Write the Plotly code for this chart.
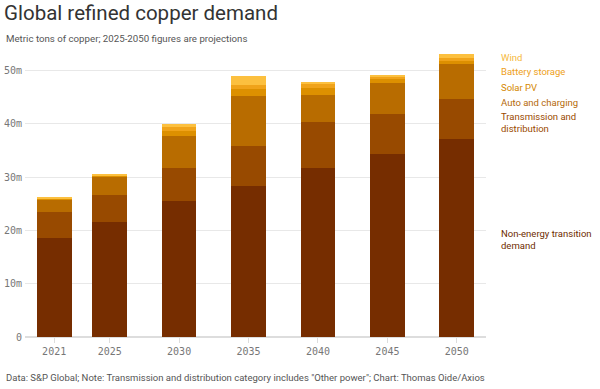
import plotly.graph_objects as go

years = [2021, 2025, 2030, 2035, 2040, 2045, 2050]
year_labels = ["2021", "2025", "2030", "2035", "2040", "2045", "2050"]

non_energy = [18.5, 21.6, 25.5, 28.3, 31.6, 34.3, 37.1]
transmission = [4.9, 5.1, 6.2, 7.5, 8.8, 7.5, 7.5]
auto_charging = [2.3, 3.35, 6.0, 9.4, 5.0, 5.75, 6.6]
solar_pv = [0.25, 0.2, 0.9, 1.3, 1.25, 0.8, 0.6]
battery = [0.1, 0.1, 0.7, 0.8, 0.75, 0.5, 0.45]
wind = [0.2, 0.15, 0.6, 1.7, 0.5, 0.3, 0.8]

y_ticks = [0, 10, 20, 30, 40, 50]
y_tick_labels = ["0", "10m", "20m", "30m", "40m", "50m"]

series = [
    ("Non-energy transition<br>demand", non_energy, "#762d00", "#6e2c00", 18.3),
    ("Transmission and<br>distribution", transmission, "#984a00", "#9a4a00", 40.3),
    ("Auto and charging", auto_charging, "#b86c00", "#b5690a", 43.9),
    ("Solar PV", solar_pv, "#dd9000", "#d48700", 46.7),
    ("Battery storage", battery, "#f0a31a", "#eea020", 49.7),
    ("Wind", wind, "#fcc03f", "#f5b83d", 52.4),
]

W, H = 600, 389
ML, MR, MT, MB = 25, 114, 49, 52
PH = H - MT - MB
PW = W - ML - MR


def py_to_paper(py):
    return (H - MB - py) / PH


def px_to_paper(px):
    return (px - ML) / PW


fig = go.Figure()
for name, vals, col, _, _ in series:
    fig.add_trace(go.Bar(
        x=years, y=vals, name=name.replace("<br>", " "), width=2.5,
        marker=dict(color=col, line=dict(width=0)),
        hoverinfo="skip",
    ))

for name, vals, _, tcol, ypos in series:
    fig.add_annotation(
        x=px_to_paper(499), xref="paper", y=ypos, yref="y", text=name, showarrow=False,
        xanchor="left", yanchor="middle", align="left",
        font=dict(family="Roboto", size=9.5, color=tcol),
    )

fig.update_layout(
    barmode="stack",
    width=W, height=H,
    margin=dict(l=ML, r=MR, t=MT, b=MB, autoexpand=False),
    paper_bgcolor="white", plot_bgcolor="white",
    showlegend=False,
    title=dict(
        text="Global refined copper demand",
        x=4 / W, xanchor="left", xref="container",
        y=1 - 13 / H, yanchor="middle", yref="container",
        font=dict(family="Roboto", size=20.5, color="#333333"),
    ),
    xaxis=dict(
        range=[2018.9, 2052.1], tickvals=years, ticktext=year_labels,
        showgrid=False, zeroline=False, showline=False, automargin=False,
        ticks="outside", ticklen=5, tickcolor="#dddddd",
        tickfont=dict(family="DejaVu Sans Mono", size=10, color="#777777"),
    ),
    yaxis=dict(
        range=[0, 54], tickvals=y_ticks, ticktext=y_tick_labels,
        showgrid=True, gridcolor="#e8e8e8", gridwidth=1, automargin=False,
        zeroline=True, zerolinecolor="#dddddd", showline=False,
        ticks="", ticklabelstandoff=2,
        tickfont=dict(family="DejaVu Sans Mono", size=10, color="#777777"),
    ),
)

fig.add_annotation(
    x=px_to_paper(4), xref="paper", y=py_to_paper(38), yref="paper",
    yanchor="middle", xanchor="left",
    text="Metric tons of copper; 2025-2050 figures are projections", showarrow=False,
    font=dict(family="Roboto", size=9.7, color="#555555"),
)
fig.add_annotation(
    x=px_to_paper(4), xref="paper", y=py_to_paper(377), yref="paper",
    yanchor="middle", xanchor="left",
    text="Data: S&P Global; Note: Transmission and distribution category includes \"Other power\"; Chart: Thomas Oide/Axios",
    showarrow=False,
    font=dict(family="Roboto", size=9.5, color="#555555"),
)

fig.write_html(
    "out.html",
    config={"displayModeBar": False},
    post_script="document.body.style.margin='0';document.body.style.padding='0';",
)
